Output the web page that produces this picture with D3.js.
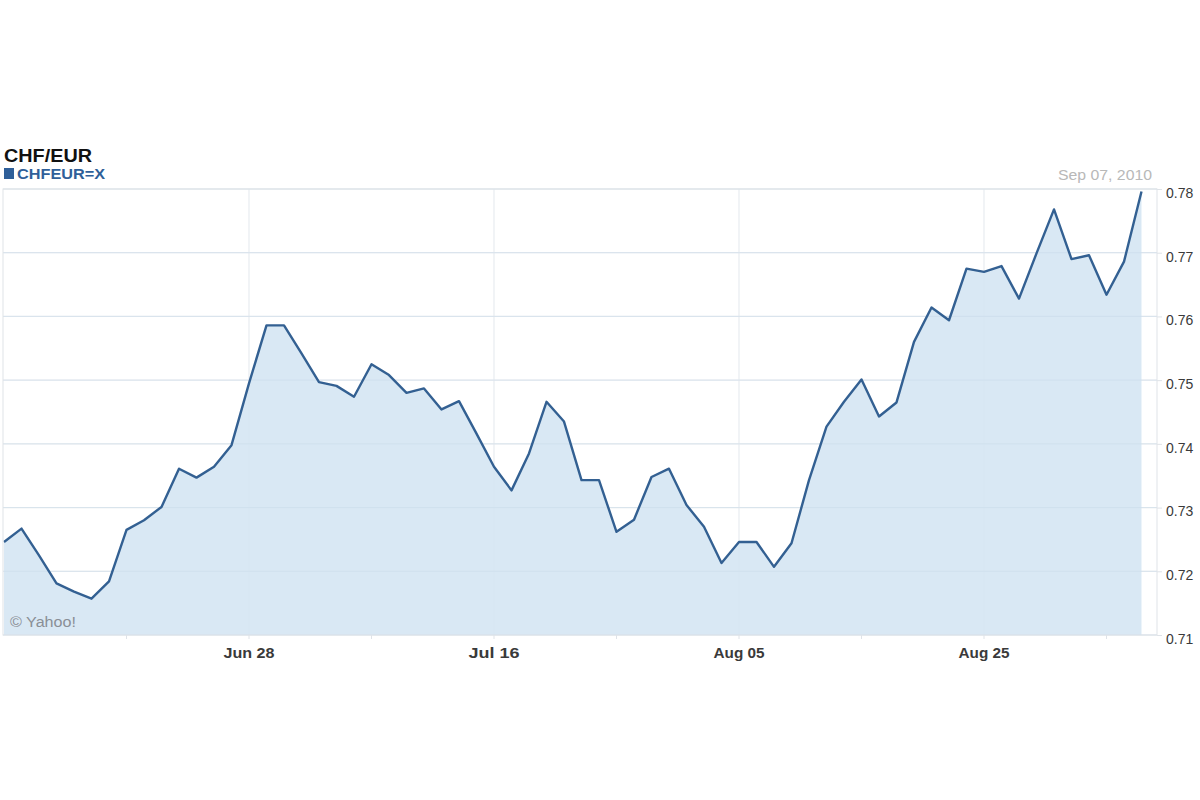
<!DOCTYPE html>
<html>
<head>
<meta charset="utf-8">
<script src="https://cdn.jsdelivr.net/npm/d3@7"></script>
<style>
  body { margin: 0; background: #fff; }
  svg { display: block; font-family: Arial, "Liberation Sans", sans-serif; }
</style>
</head>
<body>
<svg id="chart" width="1200" height="800"></svg>
<script>
// Trading days, Jun 08 2010 to Sep 07 2010 (weekdays only)
var dates = [
  "2010-06-08","2010-06-09","2010-06-10","2010-06-11",
  "2010-06-14","2010-06-15","2010-06-16","2010-06-17","2010-06-18",
  "2010-06-21","2010-06-22","2010-06-23","2010-06-24","2010-06-25",
  "2010-06-28","2010-06-29","2010-06-30","2010-07-01","2010-07-02",
  "2010-07-05","2010-07-06","2010-07-07","2010-07-08","2010-07-09",
  "2010-07-12","2010-07-13","2010-07-14","2010-07-15","2010-07-16",
  "2010-07-19","2010-07-20","2010-07-21","2010-07-22","2010-07-23",
  "2010-07-26","2010-07-27","2010-07-28","2010-07-29","2010-07-30",
  "2010-08-02","2010-08-03","2010-08-04","2010-08-05","2010-08-06",
  "2010-08-09","2010-08-10","2010-08-11","2010-08-12","2010-08-13",
  "2010-08-16","2010-08-17","2010-08-18","2010-08-19","2010-08-20",
  "2010-08-23","2010-08-24","2010-08-25","2010-08-26","2010-08-27",
  "2010-08-30","2010-08-31","2010-09-01","2010-09-02","2010-09-03",
  "2010-09-06","2010-09-07"
];

// CHF/EUR close
var closes = [
  0.7246, 0.7267, 0.7225, 0.7181,
  0.7168, 0.7157, 0.7184, 0.7265, 0.7280,
  0.7301, 0.7361, 0.7347, 0.7364, 0.7398,
  0.7495, 0.7586, 0.7586, 0.7542, 0.7497,
  0.7491, 0.7474, 0.7525, 0.7508, 0.7480,
  0.7487, 0.7454, 0.7467, 0.7416, 0.7364,
  0.7327, 0.7385, 0.7466, 0.7435, 0.7343,
  0.7343, 0.7262, 0.7281, 0.7348, 0.7361,
  0.7304, 0.7270, 0.7213, 0.7246, 0.7246,
  0.7207, 0.7244, 0.7343, 0.7427, 0.7466,
  0.7501, 0.7443, 0.7465, 0.7560, 0.7614,
  0.7594, 0.7675, 0.7670, 0.7679, 0.7628,
  0.7699, 0.7768, 0.7690, 0.7696, 0.7634,
  0.7686, 0.7796
];

var yTicks = [0.71, 0.72, 0.73, 0.74, 0.75, 0.76, 0.77, 0.78];
var xTickDates = ["2010-06-28", "2010-07-16", "2010-08-05", "2010-08-25"];
var xTickLabels = ["Jun 28", "Jul 16", "Aug 05", "Aug 25"];
var minorTickDates = ["2010-06-17", "2010-07-07", "2010-07-27", "2010-08-16", "2010-09-03"];

var colors = {
    line: "#336092",
    fill: "#d5e5f3",
    grid: "#e8ecf0",
    frame: "#dfe3e8",
    text: "#3a3a3a",
    faint: "#b8b8b8",
    legend: "#2f5f99"
};

var frame = { left: 3, right: 1157, top: 189, bottom: 635 };

var data = dates.map(function (d, i) { return { date: d, value: closes[i] }; });

var x = d3.scaleLinear()
    .domain([0, dates.length - 1])
    .range([4, 1141.5]);
var y = d3.scaleLinear()
    .domain([0.71, 0.78])
    .range([frame.bottom, frame.top]);

function xOf(date) { return x(dates.indexOf(date)); }

var svg = d3.select("#chart");

// horizontal grid
svg.append("g").selectAll("line")
    .data(yTicks)
    .enter().append("line")
    .attr("x1", frame.left).attr("x2", frame.right)
    .attr("y1", function (d) { return y(d); })
    .attr("y2", function (d) { return y(d); })
    .attr("stroke", colors.grid)
    .attr("stroke-width", 1.2);

// vertical grid at labelled dates
svg.append("g").selectAll("line")
    .data(xTickDates)
    .enter().append("line")
    .attr("x1", xOf).attr("x2", xOf)
    .attr("y1", frame.top).attr("y2", frame.bottom)
    .attr("stroke", colors.grid)
    .attr("stroke-width", 1.2);

// area + line
var area = d3.area()
    .x(function (d, i) { return x(i); })
    .y0(frame.bottom)
    .y1(function (d) { return y(d.value); });
var line = d3.line()
    .x(function (d, i) { return x(i); })
    .y(function (d) { return y(d.value); });

svg.append("path")
    .datum(data)
    .attr("d", area)
    .attr("fill", colors.fill)
    .attr("fill-opacity", 0.9);

// grid shows faintly through the fill
svg.append("g").selectAll("line")
    .data(yTicks)
    .enter().append("line")
    .attr("x1", frame.left).attr("x2", frame.right)
    .attr("y1", function (d) { return y(d); })
    .attr("y2", function (d) { return y(d); })
    .attr("stroke", "#c9dbea")
    .attr("stroke-opacity", 0.5);

svg.append("path")
    .datum(data)
    .attr("d", line)
    .attr("fill", "none")
    .attr("stroke", colors.line)
    .attr("stroke-width", 2.4)
    .attr("stroke-linejoin", "round");

// frame
svg.append("rect")
    .attr("x", frame.left).attr("y", frame.top)
    .attr("width", frame.right - frame.left)
    .attr("height", frame.bottom - frame.top)
    .attr("fill", "none")
    .attr("stroke", colors.frame);

// right axis
var yAxis = d3.axisRight(y)
    .tickValues(yTicks)
    .tickSize(5)
    .tickPadding(4)
    .tickFormat(d3.format(".2f"));
var yg = svg.append("g")
    .attr("transform", "translate(" + frame.right + ",0)")
    .call(yAxis);
yg.select(".domain").remove();
yg.selectAll(".tick line").attr("stroke", colors.frame);
yg.selectAll(".tick text")
    .attr("fill", colors.text)
    .attr("dy", "0.6em")
    .style("font-size", "14px");

// bottom axis
var xg = svg.append("g")
    .attr("transform", "translate(0," + frame.bottom + ")");
xg.selectAll("line.minor")
    .data(minorTickDates.concat(xTickDates))
    .enter().append("line")
    .attr("class", "minor")
    .attr("x1", xOf).attr("x2", xOf)
    .attr("y1", 0).attr("y2", 4)
    .attr("stroke", colors.frame);
xg.selectAll("text")
    .data(xTickDates)
    .enter().append("text")
    .attr("x", xOf)
    .attr("y", 23)
    .attr("text-anchor", "middle")
    .attr("fill", colors.text)
    .style("font-size", "15px")
    .style("font-weight", "bold")
    .attr("textLength", 51)
    .attr("lengthAdjust", "spacingAndGlyphs")
    .text(function (d, i) { return xTickLabels[i]; });

// title and legend
svg.append("text")
    .attr("x", 4).attr("y", 162)
    .attr("fill", "#111")
    .style("font-size", "18px")
    .style("font-weight", "bold")
    .attr("textLength", 88)
    .attr("lengthAdjust", "spacingAndGlyphs")
    .text("CHF/EUR");
svg.append("rect")
    .attr("x", 4).attr("y", 168)
    .attr("width", 10).attr("height", 11)
    .attr("fill", colors.legend);
svg.append("text")
    .attr("x", 17).attr("y", 179)
    .attr("fill", colors.legend)
    .style("font-size", "14px")
    .style("font-weight", "bold")
    .attr("textLength", 88)
    .attr("lengthAdjust", "spacingAndGlyphs")
    .text("CHFEUR=X");
svg.append("text")
    .attr("x", 1152).attr("y", 180)
    .attr("text-anchor", "end")
    .attr("fill", colors.faint)
    .style("font-size", "14px")
    .attr("textLength", 94)
    .attr("lengthAdjust", "spacingAndGlyphs")
    .text("Sep 07, 2010");

svg.append("text")
    .attr("x", 10).attr("y", 627)
    .attr("fill", "#8a8f96")
    .style("font-size", "14px")
    .attr("textLength", 66)
    .attr("lengthAdjust", "spacingAndGlyphs")
    .text("\u00a9 Yahoo!");
</script>
</body>
</html>
